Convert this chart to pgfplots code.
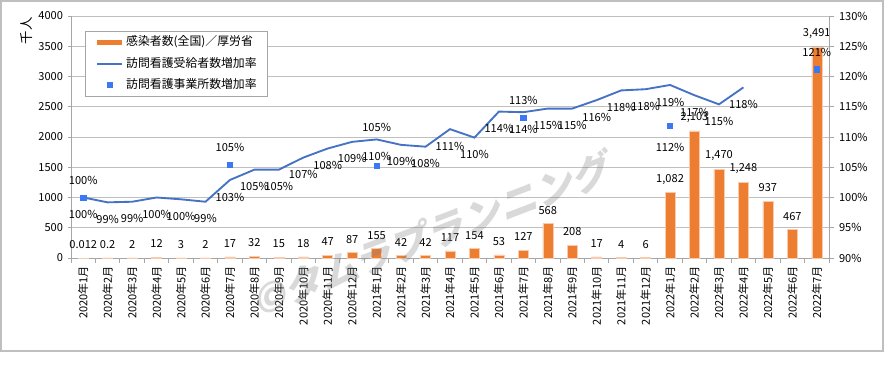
\documentclass[border=0pt]{standalone}
\usepackage{fontspec}
\setmainfont{Noto Sans CJK JP}
\newfontfamily\wmfont[FakeSlant=0.25]{Noto Sans CJK JP}
\usepackage{pgfplots}
\usepackage{pgfplotstable}
\pgfplotsset{compat=1.18}
\definecolor{barorange}{HTML}{ED7D31}
\definecolor{baredge}{HTML}{F8CBAD}
\definecolor{lineblue}{HTML}{4472C4}
\definecolor{sqblue}{HTML}{3C78F5}
\definecolor{gridgray}{HTML}{BFBFBF}
\definecolor{axisgray}{HTML}{A6A6A6}
\newcommand\labf{\fontsize{8.3}{9}\selectfont}
\newcommand\legf{\fontsize{8.9}{10}\selectfont}
\pgfplotsset{
  mylineleg/.style={legend image code/.code={\draw[##1] (0pt,0pt) -- (18.75pt,0pt);}},
  mysqleg/.style={legend image code/.code={\draw[##1] plot coordinates {(9.4pt,0pt)};}},
}

\pgfplotstableread{
x y lab
0 0.012 0.012
1 0.2 0.2
2 2 2
3 12 12
4 3 3
5 2 2
6 17 17
7 32 32
8 15 15
9 18 18
10 47 47
11 87 87
12 155 155
13 42 42
14 42 42
15 117 117
16 154 154
17 53 53
18 127 127
19 568 568
20 208 208
21 17 17
22 4 4
23 6 6
24 1082 1,082
25 2103 2,103
26 1470 1,470
27 1248 1,248
28 937 937
29 467 467
30 3491 3,491
}\casedata

\pgfplotstableread{
x y lab
0 100.0 100
1 99.2 99
2 99.3 99
3 100.0 100
4 99.7 100
5 99.3 99
6 102.9 103
7 104.6 105
8 104.6 105
9 106.6 107
10 108.1 108
11 109.2 109
12 109.6 110
13 108.7 109
14 108.4 108
15 111.3 111
16 109.9 110
17 114.2 114
18 114.1 114
19 114.7 115
20 114.7 115
21 116.1 116
22 117.7 118
23 117.9 118
24 118.6 119
25 116.9 117
26 115.4 115
27 118.2 118
}\linedata

\pgfplotstableread{
x y lab dy
0 100.0 100 12.75
6 105.4 105 12.75
12 105.2 105 29.25
18 113.2 113 12.75
24 111.9 112 -16.5
30 121.2 121 12.75
}\sqdata

\begin{document}
\begin{tikzpicture}
\path[use as bounding box] (0,0) rectangle (663pt,284.25pt);
\draw[gridgray, line width=1.5pt] (0.75pt,21pt) rectangle (662.25pt,283.5pt);
\node[rotate=90, font=\fontsize{10}{12}\selectfont] at (20.25pt,261pt) {千人};

\begin{axis}[
  at={(53.25pt,90.75pt)}, anchor=south west,
  width=568.5pt, height=181.5pt, scale only axis,
  xmin=-0.5, xmax=30.5, ymin=0, ymax=4000,
  axis x line*=bottom, axis y line*=left,
  axis line style={axisgray, line width=0.75pt},
  ytick={0,500,...,4000},
  xtick={0,...,30},
  xticklabels={2020年1月,2020年2月,2020年3月,2020年4月,2020年5月,2020年6月,2020年7月,2020年8月,2020年9月,2020年10月,2020年11月,2020年12月,2021年1月,2021年2月,2021年3月,2021年4月,2021年5月,2021年6月,2021年7月,2021年8月,2021年9月,2021年10月,2021年11月,2021年12月,2022年1月,2022年2月,2022年3月,2022年4月,2022年5月,2022年6月,2022年7月},
  minor xtick={-0.5,0.5,...,30.5},
  major x tick style={draw=none},
  minor x tick style={axisgray, line width=0.75pt},
  major y tick style={axisgray, line width=0.75pt},
  tick align=outside,
  major tick length=2.5pt, minor tick length=3.5pt,
  ymajorgrids, grid style={gridgray, line width=0.75pt},
  xticklabel style={rotate=90, anchor=east, font=\labf},
  yticklabel style={font=\labf},
  /pgf/number format/assume math mode=true,
  /pgf/number format/1000 sep={},
  clip=false,
]
\addplot[ybar, bar width=7.5pt, fill=barorange, draw=baredge, line width=0.4pt,
  point meta=explicit symbolic, nodes near coords,
  nodes near coords style={anchor=center, yshift=10.1pt, font=\labf, text=black}]
  table[x=x, y=y, meta=lab]{\casedata};
\end{axis}

\begin{axis}[
  at={(53.25pt,90.75pt)}, anchor=south west,
  width=568.5pt, height=181.5pt, scale only axis,
  xmin=-0.5, xmax=30.5, ymin=90, ymax=130,
  axis y line*=right, axis x line=none,
  axis line style={axisgray, line width=0.75pt},
  ytick={90,95,...,130},
  yticklabel={\pgfmathprintnumber{\tick}\%},
  yticklabel style={font=\labf},
  major y tick style={axisgray, line width=0.75pt},
  tick align=outside, major tick length=4pt,
  /pgf/number format/assume math mode=true,
  clip=false,
  legend style={at={(0.0185,0.939)}, anchor=north west, draw=axisgray, line width=0.75pt,
    font=\legf, inner xsep=7pt, inner ysep=3pt, row sep=5pt,
    nodes={inner sep=1pt, text height=7pt, text depth=2pt}},
  legend cell align=left,
  mylineleg,
]
\addlegendimage{barorange, line width=3.75pt}
\addlegendentry{感染者数(全国)／厚労省}
\addplot[lineblue, line width=1.4pt, mark=none,
  point meta=explicit symbolic, nodes near coords={\pgfplotspointmeta\%},
  nodes near coords style={anchor=center, yshift=-12.75pt, font=\labf, text=black}]
  table[x=x, y=y, meta=lab]{\linedata};
\addlegendentry{訪問看護受給者数増加率}
\addplot[only marks, mark=square*, mark size=2pt, color=sqblue,
  point meta=explicit symbolic, nodes near coords={\pgfplotspointmeta\%},
  visualization depends on={\thisrow{dy} \as \dy},
  nodes near coords style={anchor=center, yshift=\dy pt, font=\labf, text=black},
  mysqleg]
  table[x=x, y=y, meta=lab]{\sqdata};
\addlegendentry{訪問看護事業所数増加率}
\end{axis}

\node[rotate=21, text=gray, opacity=0.3, font=\wmfont\bfseries\fontsize{29}{30}\selectfont] at (322.5pt,108pt) {©タムラプランニング};
\end{tikzpicture}
\end{document}
